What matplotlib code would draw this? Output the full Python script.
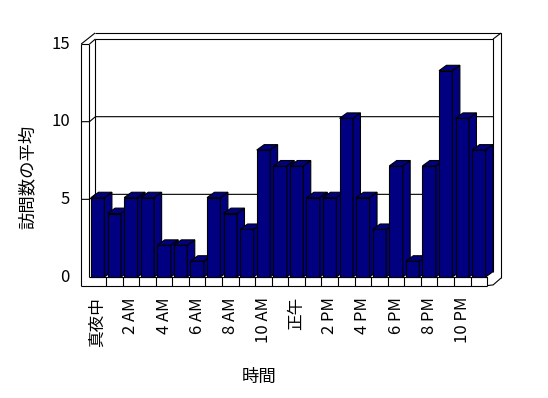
import matplotlib
matplotlib.use("Agg")
import matplotlib.pyplot as plt
from matplotlib.patches import Polygon

plt.rcParams['font.family'] = ['Noto Sans CJK JP', 'DejaVu Sans']

# ---- data ----
hours = list(range(24))
visits = [5, 4, 5, 5, 2, 2, 1, 5, 4, 3, 8, 7, 7, 5, 5, 10, 5, 3, 7, 1, 7, 13, 10, 8]
tick_labels = ['真夜中', '2 AM', '4 AM', '6 AM', '8 AM', '10 AM',
               '正午', '2 PM', '4 PM', '6 PM', '8 PM', '10 PM']
y_ticks = [0, 5, 10, 15]
x_title = '時間'
y_title = '訪問数の平均'

# ---- layout (data units: x = bar index, y = value) ----
W, H = 548, 398
PX_X, PX_Y = 16.57, 15.87          # pixels per unit
X0_PX, Y0_PX = 97.75, 277.0          # pixel of (0, 0)
BAR_W = 0.81
BDX, BDY = 0.45, 0.34                # bar depth
WDX, WDY = 0.36, 0.315               # wall depth (front -> back wall)
TDX, TDY = 0.48, 0.38                # back wall thickness
FRONT_SCALE = 0.9787
FLOOR_L, FLOOR_R = -0.5, 23.5
LWALL_OUT = -1.0
FLOOR_B = -0.54
NAVY = '#000080'
LW = 0.8

fig = plt.figure(figsize=(W / 100, H / 100), dpi=100)
ax = fig.add_axes([0, 0, 1, 1])
ax.set_xlim(-X0_PX / PX_X, (W - X0_PX) / PX_X)
ax.set_ylim((Y0_PX - H) / PX_Y, Y0_PX / PX_Y)
ax.axis('off')

def line(xs, ys, z=1):
    ax.plot(xs, ys, color='black', lw=LW, solid_capstyle='butt', zorder=z)

top_v = max(y_ticks)
f_top = top_v * FRONT_SCALE
b_top = f_top + WDY
bx_l, bx_r = FLOOR_L + WDX, FLOOR_R + WDX

# back wall inner face
line([bx_l, bx_r, bx_r], [b_top, b_top, WDY])
line([bx_l, bx_l], [WDY, b_top])
# back wall thickness
o_top = b_top + TDY
o_r = bx_r + TDX
o_l = LWALL_OUT + WDX + TDX
line([o_l, o_r, o_r], [o_top, o_top, (Y0_PX - 278) / PX_Y])
line([bx_r, o_r], [b_top, o_top])
line([o_r, bx_r, FLOOR_R], [(Y0_PX - 278) / PX_Y, FLOOR_B + 0.04, FLOOR_B])
# left wall
line([LWALL_OUT, LWALL_OUT], [FLOOR_B, f_top])
line([FLOOR_L, FLOOR_L], [0, f_top])
line([LWALL_OUT, o_l], [f_top, o_top])
line([FLOOR_L, bx_l], [f_top, b_top])
line([LWALL_OUT, FLOOR_L], [f_top, f_top])

# gridlines and y tick labels
for v in y_ticks:
    f = v * FRONT_SCALE
    b = f + WDY
    if 0 < v < top_v:
        line([LWALL_OUT, FLOOR_L, bx_l, bx_r], [f, f, b, b])
    ax.text((70 - X0_PX) / PX_X, f, str(v), ha='right', va='center',
            fontsize=12, color='black')

# floor front face
line([FLOOR_L, FLOOR_R, FLOOR_R], [0, 0, FLOOR_B])
line([LWALL_OUT, FLOOR_R], [FLOOR_B, FLOOR_B])
for i in hours[:-1]:
    line([i + 0.5, i + 0.5], [FLOOR_B, 0])

# bars (drawn left to right so each hides the previous side face)
for i, v in zip(hours, visits):
    z = 10 + i
    ax.bar(i, v, width=BAR_W, color=NAVY, edgecolor='black', linewidth=LW, zorder=z)
    xl, xr = i - BAR_W / 2, i + BAR_W / 2
    side = Polygon([(xr, 0), (xr + BDX, BDY), (xr + BDX, v + BDY), (xr, v)],
                   closed=True, facecolor=NAVY, edgecolor='black', lw=LW, zorder=z)
    top = Polygon([(xl, v), (xr, v), (xr + BDX, v + BDY), (xl + BDX, v + BDY)],
                  closed=True, facecolor=NAVY, edgecolor='black', lw=LW, zorder=z)
    ax.add_patch(side)
    ax.add_patch(top)

# x tick labels
for k, lab in enumerate(tick_labels):
    ax.text(hours[2 * k], (Y0_PX - 297) / PX_Y, lab, rotation=90, ha='center', va='top',
            fontsize=12, color='black')

# axis titles
ax.text((259 - X0_PX) / PX_X, (Y0_PX - 377) / PX_Y, x_title, ha='center', va='center',
        fontsize=12.5, color='black')
ax.text((28 - X0_PX) / PX_X, (Y0_PX - 177) / PX_Y, y_title, rotation=90, ha='center',
        va='center', fontsize=12.5, color='black')

fig.savefig('out.png', dpi=100)
